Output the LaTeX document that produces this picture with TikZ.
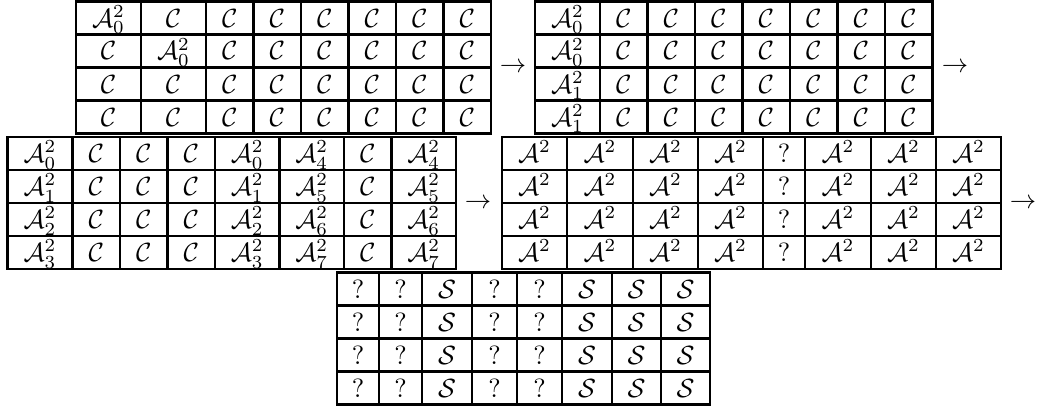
\documentclass[tikz,border=0pt]{standalone}
\usepackage{amsmath,amssymb}
\usepackage{tikz}
\usetikzlibrary{positioning,calc}
\newcommand{\cC}{\mathcal{C}}
\newcommand{\sS}{\mathcal{S}}
\newcommand{\aA}[1]{\mathcal{A}_{#1}^2}
\newcommand{\aAA}{\mathcal{A}^2}
% ruled 4-row grid: top, left, right, column rules
\newcommand{\tabgrid}[4]{%
  \foreach \r in {0,...,4} \draw[hrule] (#2,#1+\r*33) -- (#3,#1+\r*33);
  \foreach \x in {#4} \draw[vrule] (\x,#1) -- (\x,#1+132);}
% one row of entries: name, baseline, x/entry list
\newcommand{\tabrow}[3]{%
  \foreach \cx/\txt [count=\c] in {#3}
    \node[cell] (#1-\c) at (\cx,#2) {$\txt$};}

\begin{document}
\begin{tikzpicture}[x=0.38pt, y=-0.38pt,
  cell/.style={anchor=base, inner sep=0pt},
  hrule/.style={line width=1pt, line cap=rect},
  vrule/.style={line width=0.8pt},
  arr/.style={inner sep=0pt}]
  \useasboundingbox (0,0) rectangle (1038,410);
  % first line of tables
  \tabgrid{1.5}{76}{491}{76,141,206,253.5,301,348.5,396,443.5,491}
  \tabrow{ta-1}{27}{108.5/\aA{0},173.5/\cC,229.75/\cC,277.25/\cC,324.75/\cC,372.25/\cC,419.75/\cC,467.25/\cC}
  \tabrow{ta-2}{60}{108.5/\cC,173.5/\aA{0},229.75/\cC,277.25/\cC,324.75/\cC,372.25/\cC,419.75/\cC,467.25/\cC}
  \foreach \b [count=\r from 3] in {93,126}
    {\tabrow{ta-\r}{\b}{108.5/\cC,173.5/\cC,229.75/\cC,277.25/\cC,324.75/\cC,372.25/\cC,419.75/\cC,467.25/\cC}}
  \node[arr] (ab) at (513,68) {$\rightarrow$};
  \tabgrid{1.5}{535}{932.5}{535,600,647.5,695,742.5,790,837.5,885,932.5}
  \foreach \b/\k [count=\r] in {27/0,60/0,93/1,126/1}
    {\tabrow{tb-\r}{\b}{567.5/\aA{\k},623.75/\cC,671.25/\cC,718.75/\cC,766.25/\cC,813.75/\cC,861.25/\cC,908.75/\cC}}
  \node[arr] (bc) at (955,68) {$\rightarrow$};
  % second line
  \tabgrid{137}{7.5}{456}{7.5,72.5,120,167.5,215,279.5,344,391.5,456}
  \foreach \b/\k/\m [count=\r] in {162.5/0/4,195.5/1/5,228.5/2/6,261.5/3/7}
    {\tabrow{tc-\r}{\b}{40/\aA{\k},96.25/\cC,143.75/\cC,191.25/\cC,247.25/\aA{\k},311.75/\aA{\m},367.75/\cC,423.75/\aA{\m}}}
  \node[arr] (cd) at (478,204) {$\rightarrow$};
  \tabgrid{137}{502}{1001}{502,567,633,698,763,805,871,936,1001}
  \foreach \b [count=\r] in {162.5,195.5,228.5,261.5}
    {\tabrow{td-\r}{\b}{534.5/\aAA,600/\aAA,665.5/\aAA,730.5/\aAA,784/?,838/\aAA,903.5/\aAA,968.5/\aAA}}
  \node[arr] (de) at (1023,204) {$\rightarrow$};
  % last table
  \tabgrid{272.5}{337}{710}{337,379,422,472,517,562,612,661,710}
  \foreach \b [count=\r] in {298,331,364,397}
    {\tabrow{te-\r}{\b}{358/?,400.5/?,447/\sS,494.5/?,539.5/?,587/\sS,636.5/\sS,685.5/\sS}}
\end{tikzpicture}
\end{document}
